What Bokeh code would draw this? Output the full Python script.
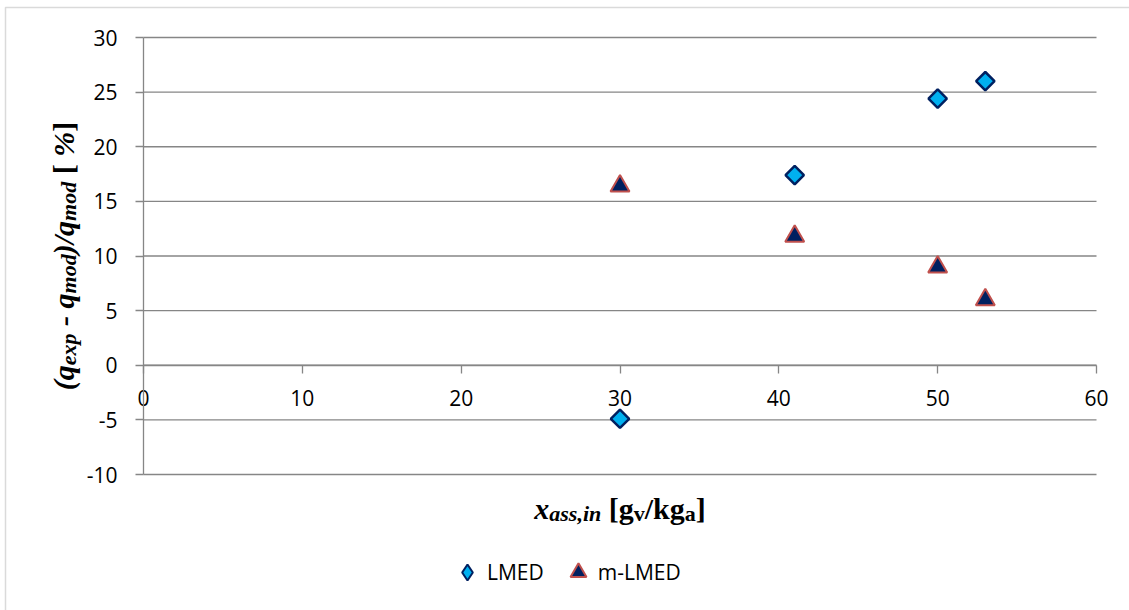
import math

from bokeh.embed import file_html
from bokeh.models import (BoxAnnotation, FixedTicker, Label, Legend,
                          LegendItem, LinearAxis, Range1d)
from bokeh.plotting import figure
from bokeh.resources import INLINE

# --- data -------------------------------------------------------------
x_ticks = [0, 10, 20, 30, 40, 50, 60]
y_ticks = [-10, -5, 0, 5, 10, 15, 20, 25, 30]

lmed_x = [30, 41, 50, 53]
lmed_y = [-4.9, 17.4, 24.4, 26.0]

mlmed_x = [30, 41, 50, 53]
mlmed_y = [16.4, 11.8, 9.0, 6.0]

# --- geometry ---------------------------------------------------------
W, H = 1129, 610
FL, FR, FT, FB = 143, 1096, 37, 474   # plot-area edges in page pixels
X0, X1 = x_ticks[0], x_ticks[-1]
Y0, Y1 = y_ticks[0], y_ticks[-1]
GRAY = "#868686"
TICK_FONT = "Open Sans"
SERIF = "Liberation Serif"
LMED_FILL, LMED_LINE = "#00B0F0", "#002060"
MLMED_FILL, MLMED_LINE = "#002060", "#C0504D"

# the frame spans the whole canvas; the ranges are widened so that the
# plot area [X0, X1] x [Y0, Y1] lands on the FL..FR / FT..FB pixels
kx = (X1 - X0) / (FR - FL)
ky = (Y1 - Y0) / (FB - FT)
x_range = Range1d(X0 - FL * kx, X1 + (W - FR) * kx)
y_range = Range1d(Y0 - (H - FB) * ky, Y1 + FT * ky)

p = figure(width=W, height=H, x_range=x_range, y_range=y_range,
           x_axis_type=None, y_axis_type=None,
           output_backend="svg", toolbar_location=None,
           min_border=0)
p.outline_line_color = None
p.background_fill_color = "white"
p.border_fill_color = "white"

# horizontal gridlines across the plot area
p.segment(x0=[X0] * len(y_ticks), x1=[X1] * len(y_ticks),
          y0=y_ticks, y1=y_ticks, line_color=GRAY, line_width=1.3)

common_axis = dict(axis_line_color=GRAY, axis_line_width=1.3,
                   major_tick_line_color=GRAY, major_tick_line_width=1.3,
                   major_tick_in=0, major_tick_out=8,
                   minor_tick_line_color=None,
                   major_label_text_font=TICK_FONT,
                   major_label_text_font_size="21px",
                   major_label_text_color="black")

yaxis = LinearAxis(ticker=FixedTicker(ticks=y_ticks), fixed_location=X0,
                   bounds=(Y0, Y1), major_label_standoff=18,
                   major_label_overrides={t: str(t) for t in y_ticks},
                   **common_axis)
p.add_layout(yaxis, "left")

xaxis = LinearAxis(ticker=FixedTicker(ticks=x_ticks), fixed_location=0,
                   bounds=(X0, X1), major_label_standoff=17,
                   major_label_overrides={t: str(t) for t in x_ticks},
                   **common_axis)
p.add_layout(xaxis, "below")

# outer chart border (its left and top edges fall inside the page)
p.add_layout(BoxAnnotation(left=5, right=3000, top=7, bottom=3000,
                           left_units="canvas", right_units="canvas",
                           top_units="canvas", bottom_units="canvas",
                           fill_alpha=0, line_color=GRAY, line_width=1.5,
                           level="underlay"))

# --- series -----------------------------------------------------------
# legend key for LMED: a plain diamond marker (zero-sized on the plot,
# sitting under the rotated squares)
lmed_key = p.scatter(lmed_x, lmed_y, marker="diamond", size=0,
                     fill_color=LMED_FILL, line_color=LMED_LINE,
                     line_width=2)
r1 = p.scatter(lmed_x, lmed_y, marker="square", angle=math.pi / 4, size=13,
               fill_color=LMED_FILL, line_color=LMED_LINE, line_width=2.5)
r2 = p.scatter(mlmed_x, mlmed_y, marker="triangle", size=19,
               fill_color=MLMED_FILL, line_color=MLMED_LINE, line_width=2)

legend = Legend(items=[LegendItem(label="LMED", renderers=[lmed_key]),
                       LegendItem(label="m-LMED", renderers=[r2])],
                orientation="horizontal", location=(447, 18),
                glyph_width=40, glyph_height=40, label_standoff=-6,
                spacing=14, padding=0, margin=0,
                border_line_color=None, background_fill_alpha=0,
                label_text_font=TICK_FONT, label_text_font_size="21px",
                label_text_color="black")
p.add_layout(legend, "center")

# --- axis titles with subscripts -------------------------------------
# Times-compatible advance widths (em/1000)
BI = {"(": 333, ")": 333, "q": 500, "e": 444, "x": 500, "p": 500, " ": 250,
      "-": 333, "m": 778, "o": 500, "d": 500, "/": 278, "%": 833, "a": 500,
      "s": 389, "i": 278, "n": 556, ",": 250}
B = {" ": 250, "[": 333, "]": 333, "g": 500, "v": 500, "/": 278, "k": 556,
     "a": 500}
BIG, SUB, DROP = 30, 22, 5


def run_width(text, size, style):
    table = BI if "italic" in style else B
    return sum(table[c] for c in text) * size / 1000.0


def put(text, size, style, px, py, angle=0.0):
    p.add_layout(Label(x=X0, y=Y0, x_offset=px - FL, y_offset=FB - py,
                       text=text, text_font=SERIF,
                       text_font_size=f"{size}px", text_font_style=style,
                       text_color="black", text_align="left",
                       text_baseline="alphabetic", angle=angle))


def lead(text, size, style):
    # width of leading blanks, which the renderer would collapse
    n = len(text) - len(text.lstrip(" "))
    return run_width(" " * n, size, style)


x_title = [("x", BIG, "bold italic", 0), ("ass,in", SUB, "bold italic", DROP),
           (" [g", BIG, "bold", 0), ("v", SUB, "bold", DROP),
           ("/kg", BIG, "bold", 0), ("a", SUB, "bold", DROP),
           ("]", BIG, "bold", 0)]
total = sum(run_width(t, s, st) for t, s, st, _ in x_title)
cx = (FL + FR) / 2 - total / 2
for t, s, st, d in x_title:
    put(t.lstrip(" "), s, st, cx + lead(t, s, st), 508 + d)
    cx += run_width(t, s, st)

y_title = [("(q", BIG, "bold italic", 0), ("exp", SUB, "bold italic", DROP),
           (" - q", BIG, "bold italic", 0), ("mod", SUB, "bold italic", DROP),
           (")/q", BIG, "bold italic", 0), ("mod", SUB, "bold italic", DROP),
           (" [", BIG, "bold", 0), (" %", BIG, "bold italic", 0),
           ("]", BIG, "bold", 0)]
total = sum(run_width(t, s, st) for t, s, st, _ in y_title)
cy = (FT + FB) / 2 + total / 2
for t, s, st, d in y_title:
    put(t.lstrip(" "), s, st, 63 + d, cy - lead(t, s, st), angle=math.pi / 2)
    cy -= run_width(t, s, st)

open("out.html", "w").write(file_html(p, INLINE))
